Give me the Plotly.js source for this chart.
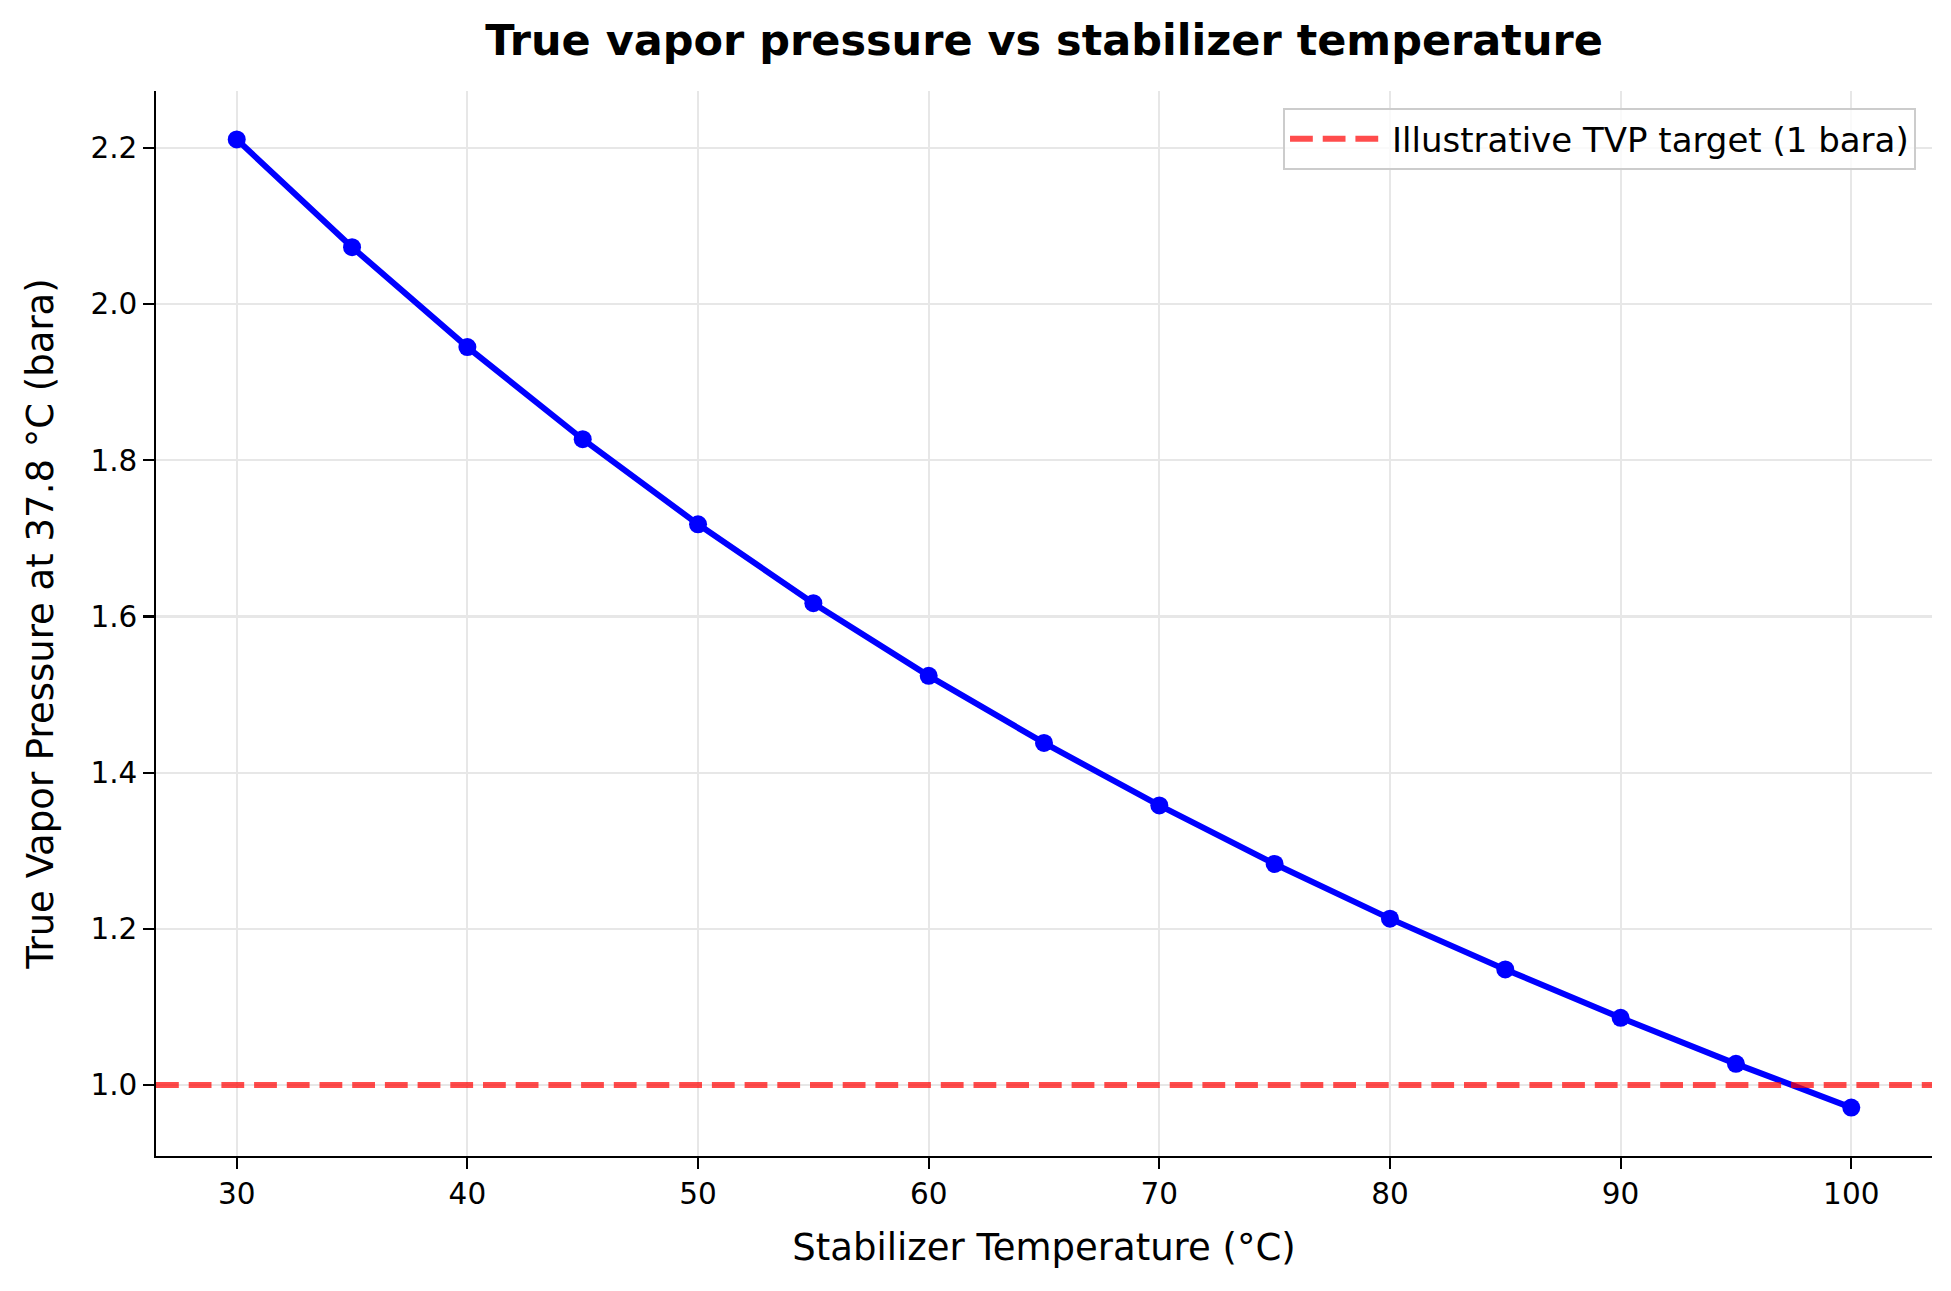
<!DOCTYPE html>
<html>
<head>
<meta charset="utf-8">
<script src="https://cdn.plot.ly/plotly-3.0.1.min.js"></script>
<style>html,body{margin:0;padding:0;background:#fff;}#chart{width:1951px;height:1291px;}</style>
</head>
<body>
<div id="chart"></div>
<script>
const temperatures = [30, 35, 40, 45, 50, 55, 60, 65, 70, 75, 80, 85, 90, 95, 100];
const tvpValues = [2.211, 2.073, 1.945, 1.827, 1.718, 1.617, 1.524, 1.438, 1.358, 1.283, 1.213, 1.148, 1.086, 1.027, 0.971];
const targetTVP = 1.0;
const targetLabel = 'Illustrative TVP target (1 bara)';
const xTicks = [30, 40, 50, 60, 70, 80, 90, 100];
const yTicks = [1.0, 1.2, 1.4, 1.6, 1.8, 2.0, 2.2];

const xMin = Math.min(...temperatures), xMax = Math.max(...temperatures);
const yMin = Math.min(...tvpValues), yMax = Math.max(...tvpValues);
const xPad = (xMax - xMin) * 0.05, yPad = (yMax - yMin) * 0.05;
const xRange = [xMin - xPad, xMax + xPad];
const yRange = [yMin - yPad, yMax + yPad];

const font = 'DejaVu Sans, sans-serif';
const gridColor = '#e7e7e7';

const traces = [
  {
    x: temperatures, y: tvpValues, type: 'scatter', mode: 'lines+markers',
    line: {color: '#0000ff', width: 6},
    marker: {color: '#0000ff', size: 18},
    showlegend: false, name: 'TVP'
  },
  {
    x: xRange, y: [targetTVP, targetTVP], type: 'scatter', mode: 'lines',
    line: {color: 'rgba(255,0,0,0.7)', width: 6, dash: '22.8px,9.9px'},
    name: targetLabel, showlegend: true
  }
];

const layout = {
  width: 1951, height: 1291,
  paper_bgcolor: '#ffffff', plot_bgcolor: '#ffffff',
  margin: {l: 156, r: 19, t: 91, b: 135, pad: 0},
  font: {family: font, color: '#000000', size: 30},
  title: {
    text: '<b>True vapor pressure vs stabilizer temperature</b>',
    font: {family: font, size: 43, color: '#000000'},
    x: 0.5, xanchor: 'center', y: 0.969, yanchor: 'middle', xref: 'paper'
  },
  xaxis: {
    range: xRange, tickvals: xTicks, ticktext: xTicks.map(String),
    showgrid: true, gridcolor: gridColor, gridwidth: 2.2,
    showline: true, linecolor: '#000000', linewidth: 2.2, mirror: false,
    ticks: 'outside', ticklen: 10.5, tickwidth: 2.2, tickcolor: '#000000',
    tickfont: {family: font, size: 29.5, color: '#000000'},
    zeroline: false,
    title: {text: 'Stabilizer Temperature (°C)', font: {family: font, size: 37, color: '#000000'}, standoff: 24}
  },
  yaxis: {
    range: yRange, tickvals: yTicks, ticktext: yTicks.map(v => v.toFixed(1)),
    showgrid: true, gridcolor: gridColor, gridwidth: 2.2,
    showline: true, linecolor: '#000000', linewidth: 2.2, mirror: false,
    ticks: 'outside', ticklen: 10.5, tickwidth: 2.2, tickcolor: '#000000',
    tickfont: {family: font, size: 29.5, color: '#000000'},
    zeroline: false,
    title: {text: 'True Vapor Pressure at 37.8 °C (bara)', font: {family: font, size: 37, color: '#000000'}, standoff: 26}
  },
  legend: {
    x: 0.991, xanchor: 'right', y: 0.984, yanchor: 'top',
    bgcolor: 'rgba(255,255,255,0.8)', bordercolor: '#cccccc', borderwidth: 2,
    font: {family: font, size: 34, color: '#000000'},
    itemwidth: 97
  }
};

Plotly.newPlot('chart', traces, layout, {displayModeBar: false, staticPlot: true});
</script>
</body>
</html>
